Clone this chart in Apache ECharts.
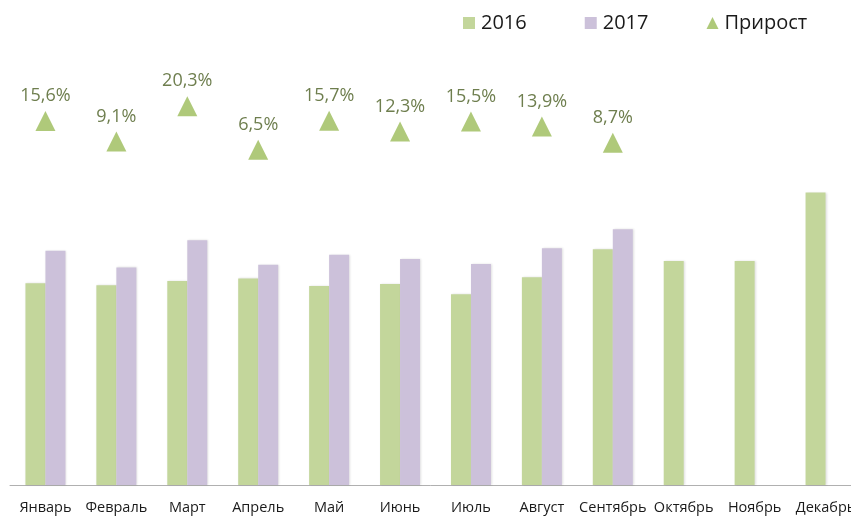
<!DOCTYPE html>
<html>
<head>
<meta charset="utf-8">
<script src="https://cdn.jsdelivr.net/npm/echarts@6/dist/echarts.min.js"></script>
<style>
  html, body { margin: 0; padding: 0; background: #fff; }
  #chart { width: 851px; height: 516px; }
</style>
</head>
<body>
<div id="chart"></div>
<script>
// months
var months = ['Январь','Февраль','Март','Апрель','Май','Июнь','Июль','Август','Сентябрь','Октябрь','Ноябрь','Декабрь'];
// values, relative units
var y2016 = [47.5, 47.0, 48.0, 48.6, 46.8, 47.3, 44.9, 48.9, 55.5, 52.7, 52.7, 68.8];
var y2017 = [55.1, 51.2, 57.6, 51.8, 54.2, 53.2, 52.0, 55.7, 60.2, null, null, null];
// growth, %
var growth = [15.6, 9.1, 20.3, 6.5, 15.7, 12.3, 15.5, 13.9, 8.7, null, null, null];

var myChart = echarts.init(document.getElementById('chart'));
var font = '"Open Sans", "Noto Sans", sans-serif';
var option = {
    animation: false,
    textStyle: { fontFamily: font },
    legend: {
        left: 458,
        top: 8,
        itemWidth: 12,
        itemHeight: 12,
        itemGap: 58,
        textStyle: { fontSize: 20, color: '#1a1a1a', fontFamily: font, padding: [0, 0, 0, 1] },
        data: [
            { name: '2016', icon: 'rect' },
            { name: '2017', icon: 'rect' },
            { name: 'Прирост', icon: 'triangle' }
        ]
    },
    grid: {
        left: 10,
        top: 60,
        width: 851,
        height: 425,
        outerBoundsMode: 'none',
        containLabel: false
    },
    xAxis: {
        type: 'category',
        data: months,
        axisLine: { lineStyle: { color: '#b0b0b0', width: 1 } },
        axisTick: { length: 6, lineStyle: { color: '#b0b0b0' } },
        axisLabel: { interval: 0, fontSize: 14.5, color: '#1a1a1a', margin: 15, fontFamily: font }
    },
    yAxis: [
        { type: 'value', min: 0, max: 100, show: false, splitLine: { show: false } },
        { type: 'value', min: -100, max: 35, show: false, splitLine: { show: false } }
    ],
    series: [
        {
            name: '2016',
            type: 'bar',
            data: y2016,
            barWidth: 20,
            barGap: '0%',
            itemStyle: { color: '#c3d69b', shadowColor: 'rgba(0,0,0,0.12)', shadowBlur: 2, shadowOffsetX: 1 }
        },
        {
            name: '2017',
            type: 'bar',
            data: y2017,
            barWidth: 20,
            barGap: '0%',
            itemStyle: { color: '#ccc1da', shadowColor: 'rgba(0,0,0,0.12)', shadowBlur: 2, shadowOffsetX: 1 }
        },
        {
            name: 'Прирост',
            type: 'scatter',
            yAxisIndex: 1,
            data: growth,
            symbol: 'triangle',
            symbolSize: [20, 20],
            itemStyle: { color: '#9bbb59' },
            label: {
                show: true,
                position: 'top',
                distance: 6,
                fontSize: 18,
                color: '#4a5e22',
                fontFamily: font,
                formatter: function (p) {
                    return String(p.value).replace('.', ',') + '%';
                }
            }
        }
    ]
};
myChart.setOption(option);
</script>
</body>
</html>
